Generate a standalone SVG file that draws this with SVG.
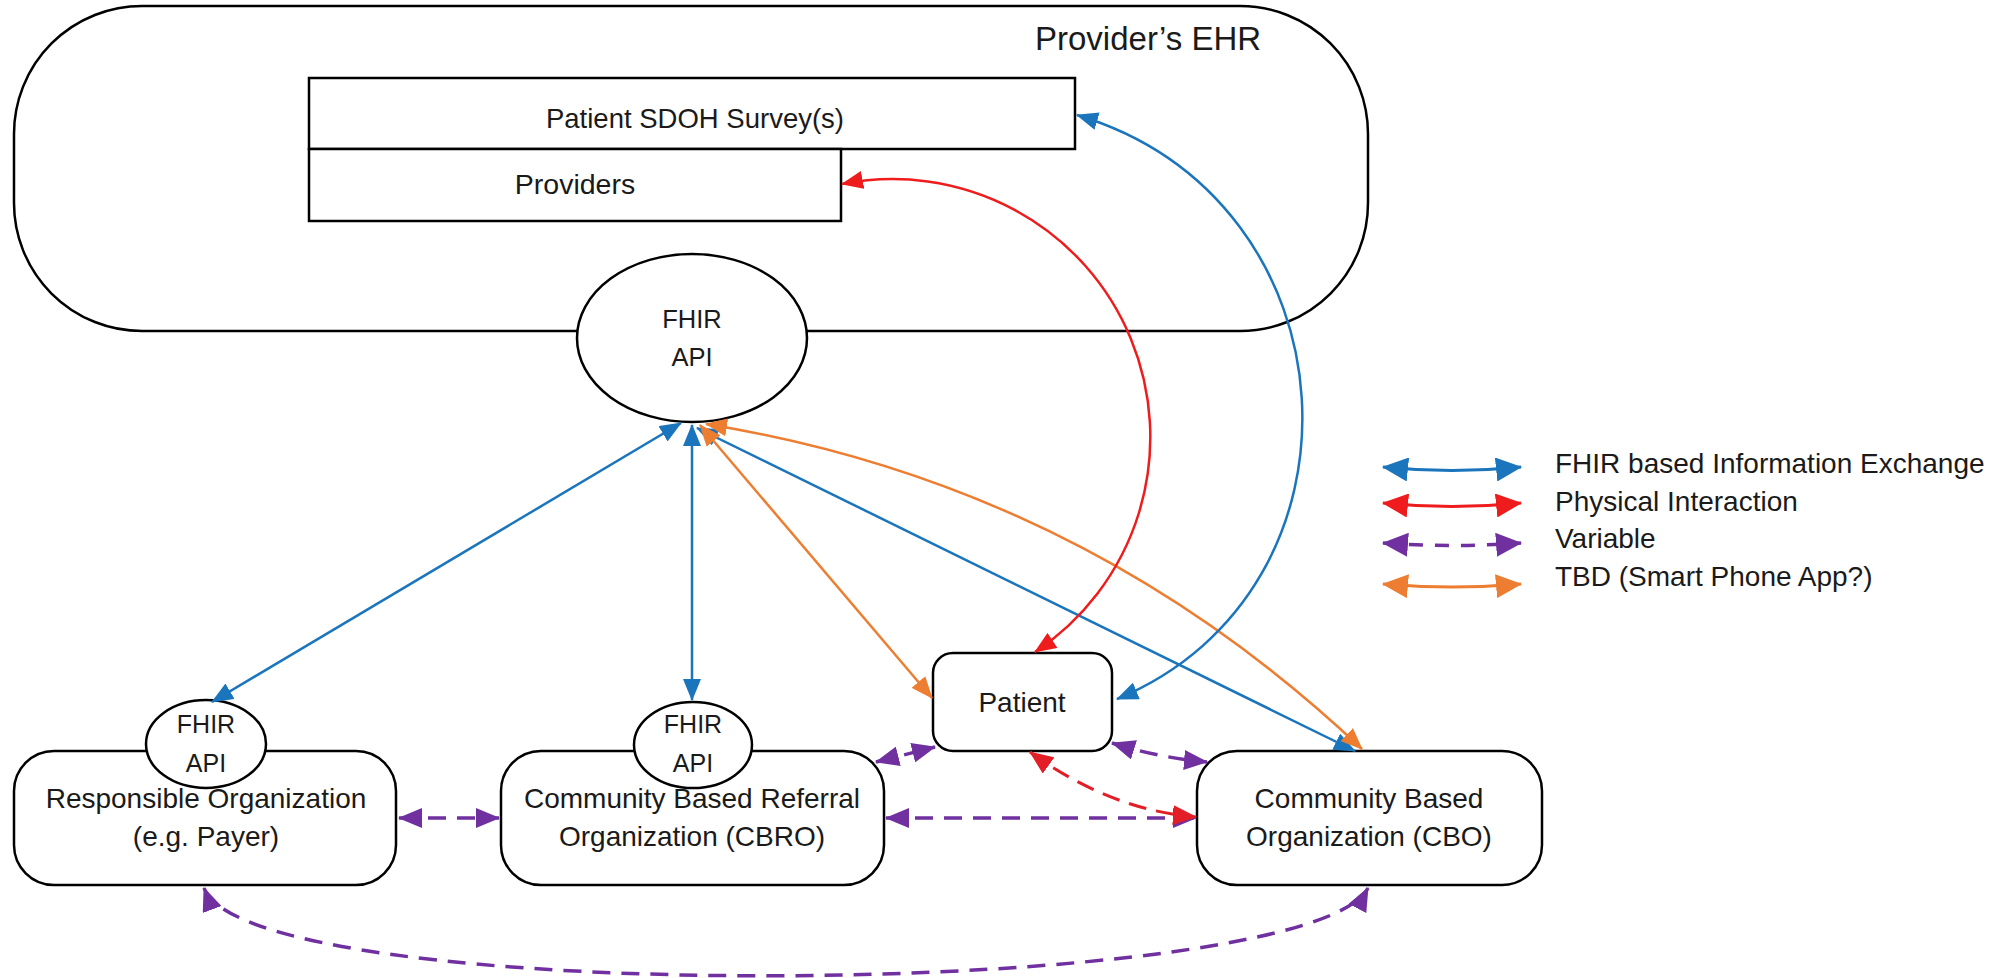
<svg xmlns="http://www.w3.org/2000/svg" width="2005" height="978" viewBox="0 0 2005 978">
<style>
.box{fill:#fff;stroke:#000;stroke-width:2.5}
.t{font-family:"Liberation Sans",Arial,sans-serif;fill:#1a1a1a;text-anchor:middle}
.lg{font-family:"Liberation Sans",Arial,sans-serif;fill:#1a1a1a;font-size:28px}
.c{fill:none;stroke-width:2.5}
.blue{stroke:#1A75BC}
.red{stroke:#EE1C1C}
.orange{stroke:#ED7D31}
.purple{stroke:#7030A0;stroke-width:3.5;stroke-dasharray:18 11}
.rdash{stroke:#E41E26;stroke-width:3;stroke-dasharray:18 10}
</style>
<defs>
<marker id="mb" viewBox="0 0 22 18" refX="21" refY="9" markerWidth="22" markerHeight="18" orient="auto-start-reverse" markerUnits="userSpaceOnUse"><path d="M0,0 L22,9 L0,18 z" fill="#1A75BC"/></marker>
<marker id="mr" viewBox="0 0 22 18" refX="21" refY="9" markerWidth="22" markerHeight="18" orient="auto-start-reverse" markerUnits="userSpaceOnUse"><path d="M0,0 L22,9 L0,18 z" fill="#EE1C1C"/></marker>
<marker id="mo" viewBox="0 0 22 18" refX="21" refY="9" markerWidth="22" markerHeight="18" orient="auto-start-reverse" markerUnits="userSpaceOnUse"><path d="M0,0 L22,9 L0,18 z" fill="#ED7D31"/></marker>
<marker id="mp" viewBox="0 0 24 20" refX="23" refY="10" markerWidth="24" markerHeight="20" orient="auto-start-reverse" markerUnits="userSpaceOnUse"><path d="M0,0 L24,10 L0,20 z" fill="#7030A0"/></marker>
<marker id="mrd" viewBox="0 0 24 20" refX="23" refY="10" markerWidth="24" markerHeight="20" orient="auto-start-reverse" markerUnits="userSpaceOnUse"><path d="M0,0 L24,10 L0,20 z" fill="#E41E26"/></marker>
<marker id="lb" viewBox="0 0 26 24" refX="25" refY="12" markerWidth="26" markerHeight="24" orient="auto-start-reverse" markerUnits="userSpaceOnUse"><path d="M0,0 L26,12 L0,24 z" fill="#1A75BC"/></marker>
<marker id="lr" viewBox="0 0 26 24" refX="25" refY="12" markerWidth="26" markerHeight="24" orient="auto-start-reverse" markerUnits="userSpaceOnUse"><path d="M0,0 L26,12 L0,24 z" fill="#EE1C1C"/></marker>
<marker id="lp" viewBox="0 0 26 24" refX="25" refY="12" markerWidth="26" markerHeight="24" orient="auto-start-reverse" markerUnits="userSpaceOnUse"><path d="M0,0 L26,12 L0,24 z" fill="#7030A0"/></marker>
<marker id="lo" viewBox="0 0 26 24" refX="25" refY="12" markerWidth="26" markerHeight="24" orient="auto-start-reverse" markerUnits="userSpaceOnUse"><path d="M0,0 L26,12 L0,24 z" fill="#ED7D31"/></marker>
</defs>
<rect width="2005" height="978" fill="#fff"/>

<g id="providers-ehr">
<rect class="box" x="14" y="6" width="1354" height="325" rx="128" ry="128"/>
<text class="lg" x="1035" y="50" font-size="33" style="font-size:33px">Provider’s EHR</text>
</g>
<g id="sdoh-survey">
<rect class="box" x="309" y="78" width="766" height="71"/>
<text class="t" x="695" y="128" font-size="27.5">Patient SDOH Survey(s)</text>
</g>
<g id="providers">
<rect class="box" x="309" y="149" width="532" height="72"/>
<text class="t" x="575" y="194" font-size="28.5">Providers</text>
</g>
<g id="ehr-fhir-api">
<ellipse class="box" cx="692" cy="338" rx="115" ry="84"/>
<text class="t" x="692" y="328" font-size="25.5">FHIR</text>
<text class="t" x="692" y="366" font-size="25.5">API</text>
</g>

<g id="responsible-org">
<rect class="box" x="14" y="751" width="382" height="134" rx="40" ry="40"/>
<ellipse class="box" cx="206" cy="744" rx="60" ry="44"/>
<text class="t" x="206" y="733" font-size="25">FHIR</text>
<text class="t" x="206" y="772" font-size="25">API</text>
<text class="t" x="206" y="808" font-size="28">Responsible Organization</text>
<text class="t" x="206" y="846" font-size="28">(e.g. Payer)</text>
</g>
<g id="cbro">
<rect class="box" x="501" y="751" width="383" height="134" rx="40" ry="40"/>
<ellipse class="box" cx="693" cy="745" rx="59" ry="43"/>
<text class="t" x="693" y="733" font-size="25">FHIR</text>
<text class="t" x="693" y="772" font-size="25">API</text>
<text class="t" x="692" y="808" font-size="28">Community Based Referral</text>
<text class="t" x="692" y="846" font-size="28">Organization (CBRO)</text>
</g>
<g id="patient">
<rect class="box" x="933" y="653" width="179" height="98" rx="20" ry="20"/>
<text class="t" x="1022" y="712" font-size="28">Patient</text>
</g>
<g id="cbo">
<rect class="box" x="1197" y="751" width="345" height="134" rx="40" ry="40"/>
<text class="t" x="1369" y="808" font-size="28">Community Based</text>
<text class="t" x="1369" y="846" font-size="28">Organization (CBO)</text>
</g>

<g id="connectors">
<path class="c blue" d="M681,423 L212,702" marker-start="url(#mb)" marker-end="url(#mb)"/>
<path class="c blue" d="M692,425 L692,700" marker-start="url(#mb)" marker-end="url(#mb)"/>
<path class="c blue" d="M697,428 L1355,751" marker-start="url(#mb)" marker-end="url(#mb)"/>
<path class="c orange" d="M700,425 L932,698" marker-start="url(#mo)" marker-end="url(#mo)"/>
<path class="c orange" d="M706,424 Q1083,485 1362,749" marker-start="url(#mo)" marker-end="url(#mo)"/>
<path class="c red" d="M842,184 A258,258 0 0 1 1035,652" marker-start="url(#mr)" marker-end="url(#mr)"/>
<path class="c blue" d="M1077,115 C1360,200 1380,590 1117,699" marker-start="url(#mb)" marker-end="url(#mb)"/>
<path class="c purple" d="M399,818 L499,818" marker-start="url(#mp)" marker-end="url(#mp)"/>
<path class="c purple" d="M886,818 L1196,818" marker-start="url(#mp)" marker-end="url(#mp)"/>
<path class="c rdash" d="M1030,752 Q1110,810 1196,817" marker-start="url(#mrd)" marker-end="url(#mrd)"/>
<path class="c purple" d="M876,762 L935,747" marker-start="url(#mp)" marker-end="url(#mp)"/>
<path class="c purple" d="M1112,743 Q1160,758 1207,762" marker-start="url(#mp)" marker-end="url(#mp)"/>
<path class="c purple" d="M204,888 C250,1010 1310,1000 1368,888" marker-start="url(#mp)" marker-end="url(#mp)"/>
</g>

<g id="legend">
<path class="c blue" style="stroke-width:3" d="M1383,467 Q1452,474 1521,467" marker-start="url(#lb)" marker-end="url(#lb)"/>
<path class="c red" style="stroke-width:3" d="M1383,503 Q1452,510 1521,503" marker-start="url(#lr)" marker-end="url(#lr)"/>
<path class="c purple" style="stroke-dasharray:14 12" d="M1383,543 Q1452,548 1521,543" marker-start="url(#lp)" marker-end="url(#lp)"/>
<path class="c orange" style="stroke-width:3" d="M1383,584 Q1452,590 1521,584" marker-start="url(#lo)" marker-end="url(#lo)"/>
<text class="lg" x="1555" y="473">FHIR based Information Exchange</text>
<text class="lg" x="1555" y="511">Physical Interaction</text>
<text class="lg" x="1555" y="548">Variable</text>
<text class="lg" x="1555" y="586">TBD (Smart Phone App?)</text>
</g>
</svg>
